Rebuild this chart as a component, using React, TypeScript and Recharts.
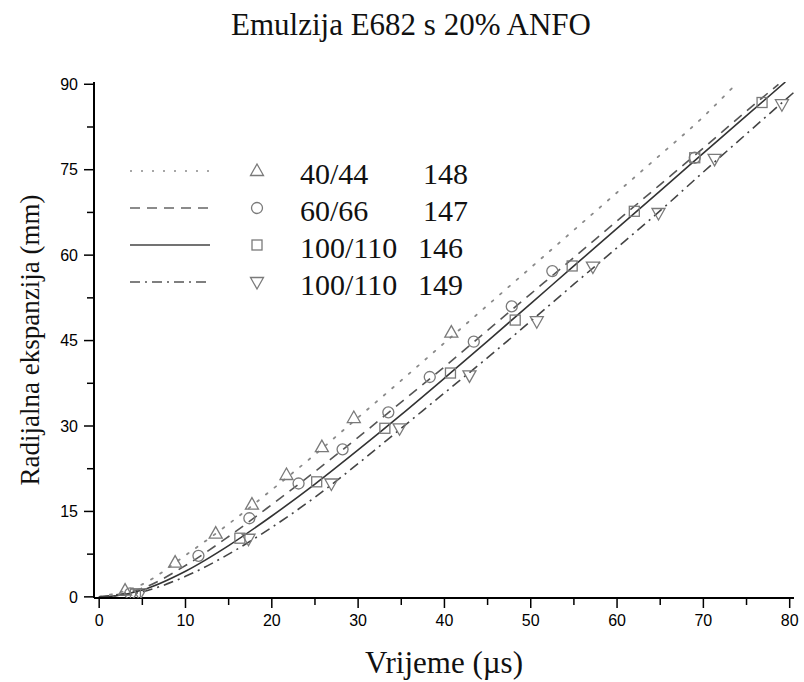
import React from 'react';
import { ComposedChart, Line, Scatter, XAxis, YAxis, Legend, Label } from 'recharts';

// ---- measured points ----
const triX = [3.0, 8.8, 13.5, 17.7, 21.7, 25.8, 29.5, 40.8];
const triY = [1.1, 6.0, 11.1, 16.2, 21.4, 26.3, 31.4, 46.4];

const circX = [3.6, 11.5, 17.4, 23.1, 28.2, 33.5, 38.3, 43.4, 47.8, 52.5, 69.0];
const circY = [0.6, 7.2, 13.8, 19.9, 25.9, 32.4, 38.6, 44.8, 51.0, 57.2, 77.1];

const sqX = [4.2, 16.3, 25.2, 33.1, 40.7, 48.2, 54.8, 62.0, 69.0, 76.8];
const sqY = [0.5, 10.3, 20.2, 29.6, 39.3, 48.6, 58.1, 67.7, 77.1, 86.8];

const invX = [4.7, 17.3, 26.9, 34.8, 42.9, 50.7, 57.2, 64.8, 71.3, 79.1];
const invY = [0.6, 10.2, 19.9, 29.6, 38.9, 48.4, 58.0, 67.4, 76.9, 86.5];

// ---- fitted curves ----
const dotX = [0, 5, 10, 15, 20, 25, 30, 35, 40, 45, 50, 55, 60, 65, 70, 73.5];
const dotY = [0, 2.2, 7.3, 12.8, 18.8, 25.0, 31.5, 38.0, 44.6, 51.2, 57.8, 64.4, 71.0, 77.6, 84.3, 89.6];

const dashX = [0, 5, 10, 15, 20, 25, 30, 35, 40, 45, 50, 55, 60, 65, 70, 75, 78.7];
const dashY = [0, 1.5, 5.5, 10.6, 16.2, 22.0, 28.0, 34.2, 40.4, 46.8, 53.2, 59.6, 66.0, 72.4, 78.8, 85.3, 90.0];

const solidX = [0, 2, 5, 10, 15, 20, 25, 30, 35, 40, 45, 50, 55, 60, 65, 70, 75, 79.5];
const solidY = [0, 0.2, 1.2, 4.5, 9.0, 14.2, 19.8, 25.8, 32.0, 38.4, 44.9, 51.5, 58.1, 64.7, 71.3, 77.9, 84.5, 90.4];

const ddX = [0, 5, 10, 15, 20, 25, 30, 35, 40, 45, 50, 55, 60, 65, 70, 75, 80.5];
const ddY = [0, 0.9, 3.6, 7.5, 12.2, 17.5, 23.4, 29.6, 35.8, 42.0, 48.4, 54.9, 61.3, 67.8, 74.6, 81.3, 88.6];

const xTicks = [0, 5, 10, 15, 20, 25, 30, 35, 40, 45, 50, 55, 60, 65, 70, 75, 80];
const yTicks = [0, 7.5, 15, 22.5, 30, 37.5, 45, 52.5, 60, 67.5, 75, 82.5, 90];

const legendRows = [
  { name: '40/44', code: '148', dash: '2 9', stroke: '#8a8a8a', marker: 'tri' },
  { name: '60/66', code: '147', dash: '10 7', stroke: '#666', marker: 'circ' },
  { name: '100/110', code: '146', dash: undefined, stroke: '#444', marker: 'sq' },
  { name: '100/110', code: '149', dash: '10 5 2 5', stroke: '#555', marker: 'inv' },
];

const zip = (xs: number[], ys: number[]) => xs.map((x, i) => ({ x, y: ys[i] }));

const SERIF = '"Liberation Serif", "Times New Roman", serif';
const SANS = '"Liberation Sans", Arial, sans-serif';
const MK = '#7a7a7a';

const markerPath = (kind: string, cx: number, cy: number) => {
  switch (kind) {
    case 'tri':
      return <polygon points={`${cx},${cy - 7} ${cx - 6.5},${cy + 4.5} ${cx + 6.5},${cy + 4.5}`} fill="none" stroke={MK} strokeWidth={1.3} />;
    case 'inv':
      return <polygon points={`${cx - 6.5},${cy - 4.5} ${cx + 6.5},${cy - 4.5} ${cx},${cy + 7}`} fill="none" stroke={MK} strokeWidth={1.3} />;
    case 'circ':
      return <circle cx={cx} cy={cy} r={5.5} fill="none" stroke={MK} strokeWidth={1.3} />;
    default:
      return <rect x={cx - 5} y={cy - 5} width={10} height={10} fill="none" stroke={MK} strokeWidth={1.3} />;
  }
};

const shapeOf = (kind: string) => (props: any) => {
  const { cx, cy } = props;
  if (cx == null || cy == null) return <g />;
  return markerPath(kind, cx, cy);
};

const XTick = (props: any) => {
  const { x, y, payload } = props;
  const axisY = y - 16;
  const major = payload.value % 10 === 0;
  return (
    <g>
      <line x1={x} x2={x} y1={axisY} y2={axisY + (major ? 10 : 7)} stroke="#000" strokeWidth={1.5} />
      {major && (
        <text x={x} y={y} dy="0.72em" textAnchor="middle" fontFamily={SANS} fontSize={16} fill="#000">
          {payload.value}
        </text>
      )}
    </g>
  );
};

const YTick = (props: any) => {
  const { x, y, payload } = props;
  const axisX = x + 16;
  const major = payload.value % 15 === 0;
  return (
    <g>
      <line x1={axisX - (major ? 10 : 7)} x2={axisX} y1={y} y2={y} stroke="#000" strokeWidth={1.5} />
      {major && (
        <text x={x} y={y} dy="0.36em" textAnchor="end" fontFamily={SANS} fontSize={16} fill="#000">
          {payload.value}
        </text>
      )}
    </g>
  );
};

const LegendBox = () => (
  <svg width={360} height={150} style={{ display: 'block', overflow: 'visible' }}>
    {legendRows.map((r, i) => {
      const cy = 16 + i * 37;
      return (
        <g key={i}>
          <line x1={5} x2={85} y1={cy} y2={cy} stroke={r.stroke} strokeWidth={1.6} strokeDasharray={r.dash} />
          {markerPath(r.marker, 132, cy)}
          <text x={175} y={cy + 13} fontFamily={SERIF} fontSize={30} fill="#111">{r.name}</text>
          <text x={i < 2 ? 298 : 293} y={cy + 13} fontFamily={SERIF} fontSize={30} fill="#111">{r.code}</text>
        </g>
      );
    })}
  </svg>
);

const YLabel = () => (
  <text x={0} y={0} transform="translate(39,340) rotate(-90)" textAnchor="middle" fontFamily={SERIF} fontSize={27} fill="#111">
    Radijalna ekspanzija (mm)
  </text>
);

export default function App() {
  return (
    <div style={{ position: 'relative', width: 804, height: 682, background: '#fff' }}>
      <style>{`body{margin:0;background:#fff}`}</style>
      <div style={{ position: 'absolute', left: 0, top: 7, width: 822, textAlign: 'center', fontFamily: SERIF, fontSize: 31, color: '#111' }}>
        Emulzija E682 s 20% ANFO
      </div>
      <ComposedChart width={804} height={682} margin={{ top: 82, right: 10, left: 34, bottom: 44 }}>
        <XAxis
          type="number"
          dataKey="x"
          domain={[-0.6, 80.5]}
          allowDataOverflow
          ticks={xTicks}
          interval={0}
          tickSize={10}
          tickMargin={6}
          tickLine={false}
          tick={<XTick />}
          height={40}
          axisLine={{ stroke: '#000', strokeWidth: 2 }}
        >
          <Label value="Vrijeme (µs)" position="bottom" offset={13} fontFamily={SERIF} fontSize={31} fill="#111" />
        </XAxis>
        <YAxis
          type="number"
          domain={[-0.2, 90.4]}
          allowDataOverflow
          ticks={yTicks}
          interval={0}
          tickSize={10}
          tickMargin={6}
          tickLine={false}
          tick={<YTick />}
          width={60}
          axisLine={{ stroke: '#000', strokeWidth: 2 }}
          label={<YLabel />}
        />
        <Legend
          layout="vertical"
          align="center"
          verticalAlign="middle"
          content={<LegendBox />}
          wrapperStyle={{ position: 'absolute', left: 125, top: 155, width: 360, height: 150 }}
        />
        <Line data={zip(dotX, dotY)} dataKey="y" type="monotone" dot={false} stroke="#8a8a8a" strokeWidth={1.8} strokeDasharray="2 9" strokeLinecap="round" isAnimationActive={false} legendType="none" />
        <Line data={zip(dashX, dashY)} dataKey="y" type="monotone" dot={false} stroke="#555" strokeWidth={1.6} strokeDasharray="10 7" isAnimationActive={false} legendType="none" />
        <Line data={zip(solidX, solidY)} dataKey="y" type="monotone" dot={false} stroke="#333" strokeWidth={1.6} isAnimationActive={false} legendType="none" />
        <Line data={zip(ddX, ddY)} dataKey="y" type="monotone" dot={false} stroke="#444" strokeWidth={1.6} strokeDasharray="10 5 2 5" isAnimationActive={false} legendType="none" />
        <Scatter data={zip(triX, triY)} dataKey="y" shape={shapeOf('tri')} isAnimationActive={false} legendType="none" />
        <Scatter data={zip(circX, circY)} dataKey="y" shape={shapeOf('circ')} isAnimationActive={false} legendType="none" />
        <Scatter data={zip(sqX, sqY)} dataKey="y" shape={shapeOf('sq')} isAnimationActive={false} legendType="none" />
        <Scatter data={zip(invX, invY)} dataKey="y" shape={shapeOf('inv')} isAnimationActive={false} legendType="none" />
      </ComposedChart>
    </div>
  );
}
